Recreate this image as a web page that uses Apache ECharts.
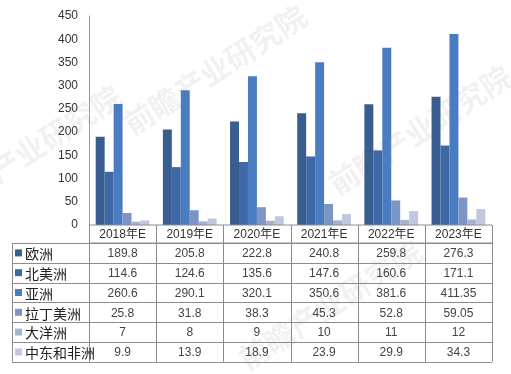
<!DOCTYPE html>
<html><head><meta charset="utf-8">
<script src="https://cdn.jsdelivr.net/npm/echarts@6/dist/echarts.min.js"></script>
<style>html,body{margin:0;padding:0;background:#fff}#c{width:511px;height:374px}</style>
</head><body><div id="c"></div>
<script>
const categories = ['2018年E','2019年E','2020年E','2021年E','2022年E','2023年E'];
const seriesNames = ['欧洲','北美洲','亚洲','拉丁美洲','大洋洲','中东和非洲'];
const europe = [189.8,205.8,222.8,240.8,259.8,276.3];
const northAmerica = [114.6,124.6,135.6,147.6,160.6,171.1];
const asia = [260.6,290.1,320.1,350.6,381.6,411.35];
const latinAmerica = [25.8,31.8,38.3,45.3,52.8,59.05];
const oceania = [7,8,9,10,11,12];
const mideastAfrica = [9.9,13.9,18.9,23.9,29.9,34.3];
const yTicks = [0,50,100,150,200,250,300,350,400,450];

const allData = [europe,northAmerica,asia,latinAmerica,oceania,mideastAfrica];
const colors = ['#3a5d8f','#3f68a6','#4a7cc1','#7d95c6','#a6b2d0','#bfc8de'];

const W=511,H=374;
const gL=89,gR=492,gT=16,gB=225;
const rowH=19.8, headerBot=243, tableL=12;
const catW=(gR-gL)/categories.length;

const chart = echarts.init(document.getElementById('c'),null,{renderer:'canvas'});
const g=[];
const lineStyle={stroke:'#8c8c8c',lineWidth:1};
function ln(x1,y1,x2,y2){g.push({type:'line',shape:{x1,y1,x2,y2},style:lineStyle,z:10});}
// watermark
const wm=[[215,70],[30,150],[420,130],[330,305]];
wm.forEach(p=>g.push({type:'text',x:p[0],y:p[1],rotation:Math.PI/5.5,style:{text:'前瞻产业研究院',fill:'rgba(150,150,150,0.13)',font:'bold 30px "Noto Sans CJK SC"',align:'center',verticalAlign:'middle'},z:0}));
// header row
ln(gL,gB,gR,gB);
ln(gL,headerBot,gR,headerBot);
for(let i=0;i<=categories.length;i++){const x=Math.round(gL+i*catW)+0.5;ln(x,gB,x,headerBot+rowH*6);}
ln(tableL+0.5,headerBot,tableL+0.5,headerBot+rowH*6);
for(let r=0;r<=6;r++){const y=Math.round(headerBot+r*rowH)+0.5;ln(tableL,y,gR,y);}
categories.forEach((c,i)=>g.push({type:'text',x:gL+(i+0.5)*catW,y:(gB+headerBot)/2+1,style:{text:c,fill:'#333',font:'12px "Liberation Sans","Noto Sans CJK SC"',align:'center',verticalAlign:'middle'},z:11}));
seriesNames.forEach((n,r)=>{
  const yc=headerBot+(r+0.5)*rowH;
  g.push({type:'rect',shape:{x:15,y:yc-3.5,width:7,height:7},style:{fill:colors[r]},z:11});
  g.push({type:'text',x:25,y:yc+1,style:{text:n,fill:'#222',font:'14px "Noto Sans CJK SC"',align:'left',verticalAlign:'middle'},z:11});
  allData[r].forEach((v,i)=>g.push({type:'text',x:gL+(i+0.5)*catW,y:yc+1,style:{text:String(v),fill:'#444',font:'12px "Liberation Sans"',align:'center',verticalAlign:'middle'},z:11}));
});

chart.setOption({
  animation:false,
  backgroundColor:'#fff',
  grid:{left:gL,right:W-gR,top:gT,bottom:H-gB,containLabel:false},
  xAxis:{type:'category',data:categories,axisLabel:{show:false},axisTick:{show:false},axisLine:{show:false}},
  yAxis:{type:'value',min:0,max:450,interval:50,splitLine:{show:false},
    axisLine:{show:true,lineStyle:{color:'#999'}},axisTick:{show:false},
    axisLabel:{color:'#333',fontSize:12,fontFamily:'Liberation Sans',margin:11}},
  series:seriesNames.map((n,i)=>({name:n,type:'bar',data:allData[i],barGap:'0%',barCategoryGap:'20%',itemStyle:{color:colors[i]}})),
  graphic:g
});
</script></body></html>
